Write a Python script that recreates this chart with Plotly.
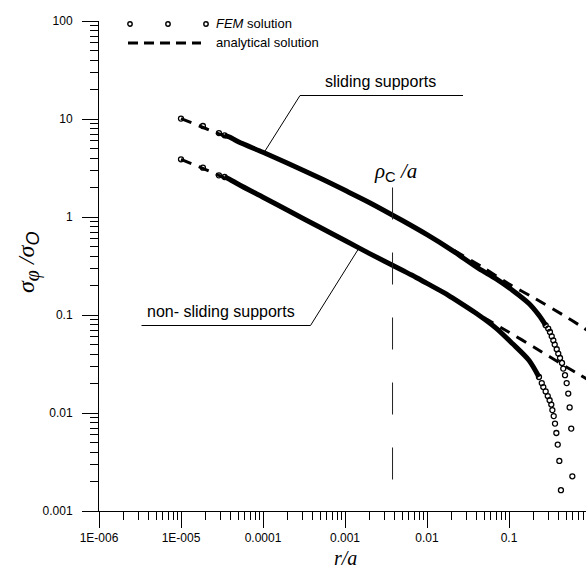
import plotly.graph_objects as go

# ---------------- data ----------------
# analytical solution (dashed)
ana_x = [1e-5, 2e-5, 5e-5, 1e-4, 2e-4, 5e-4, 1e-3, 2e-3, 5e-3, 1e-2, 2e-2,
         5e-2, 0.1, 0.2, 0.5, 0.7, 1.0]
ana_sliding = [10.1, 8.0, 5.85, 4.57, 3.53, 2.48, 1.87, 1.40, 0.92, 0.66, 0.47,
               0.30, 0.207, 0.150, 0.0955, 0.080, 0.066]
ana_nonsliding = [3.88, 3.05, 2.16, 1.59, 1.17, 0.781, 0.575, 0.423, 0.286, 0.210,
                  0.151, 0.0935, 0.0667, 0.0472, 0.0295, 0.025, 0.0209]

# FEM solution (open circles)
fem_sliding_x = [1e-5, 1.85e-5, 2.9e-5, 3.4e-5, 3.9e-5, 5e-5, 1e-4, 2e-4, 5e-4,
                 1e-3, 2e-3, 5e-3, 1e-2, 2e-2, 0.043, 0.069, 0.11, 0.175, 0.232,
                 0.28, 0.301, 0.316, 0.332, 0.347, 0.361, 0.382, 0.399, 0.419,
                 0.443, 0.459, 0.482, 0.505, 0.528, 0.549, 0.574, 0.592]
fem_sliding_y = [10.1, 8.48, 7.19, 6.82, 6.55, 5.85, 4.57, 3.53, 2.48,
                 1.87, 1.40, 0.92, 0.66, 0.46, 0.297, 0.235, 0.179, 0.131, 0.0993,
                 0.0785, 0.0727, 0.0671, 0.0606, 0.0552, 0.0499, 0.0447, 0.0404,
                 0.0364, 0.0324, 0.0284, 0.0243, 0.0202, 0.0158, 0.0114, 0.00693,
                 0.00226]
fem_nonsliding_x = [1e-5, 1.85e-5, 2.9e-5, 3.4e-5, 3.9e-5, 5e-5, 1e-4, 2e-4, 5e-4,
                    1e-3, 2e-3, 5e-3, 6.6e-3, 1e-2, 1.69e-2, 2e-2, 0.043, 0.07,
                    0.11, 0.175, 0.232, 0.251, 0.262, 0.280, 0.297, 0.313, 0.328,
                    0.338, 0.351, 0.364, 0.378, 0.393, 0.411, 0.430]
fem_nonsliding_y = [3.88, 3.19, 2.66, 2.56, 2.43, 2.16, 1.59, 1.17, 0.781,
                    0.575, 0.423, 0.286, 0.254, 0.210, 0.165, 0.151, 0.0993, 0.073,
                    0.0511, 0.0345, 0.0233, 0.0202, 0.0184, 0.0166, 0.0149, 0.0135,
                    0.0122, 0.0107, 0.0093, 0.0078, 0.00625, 0.00476, 0.00324,
                    0.00163]
# where FEM nodes are so dense they merge into a band
dense_from = 3.4e-5
dense_to_sliding = 0.28
dense_to_nonsliding = 0.232

# critical radius marker
rho_c_over_a = 0.0038
rho_line_y = [2.0, 0.001]

x_tickvals = [1e-6, 1e-5, 1e-4, 1e-3, 1e-2, 1e-1]
x_ticktext = ["1E-006", "1E-005", "0.0001", "0.001", "0.01", "0.1"]
y_tickvals = [1e-3, 1e-2, 1e-1, 1, 10, 100]
y_ticktext = ["0.001", "0.01", "0.1", "1", "10", "100"]

# ---------------- layout geometry ----------------
W, H = 586, 570
L, R, T, B = 99, 0, 21, 59
PW, PH = W - L - R, H - T - B
X_DEC = 82.0  # px per decade on x
x_range = [-6, -6 + PW / X_DEC]


def PX(px):
    return (px - L) / PW


def PY(py):
    return (H - B - py) / PH


SANS = "Liberation Sans, Arial, sans-serif"
SERIF = "Liberation Serif, Times New Roman, serif"

fig = go.Figure()

# FEM curves
for fx, fy, dto in ((fem_sliding_x, fem_sliding_y, dense_to_sliding),
                    (fem_nonsliding_x, fem_nonsliding_y, dense_to_nonsliding)):
    dx = [a for a in fx if dense_from <= a <= dto]
    dy = [b for a, b in zip(fx, fy) if dense_from <= a <= dto]
    sx = [a for a in fx if not (dense_from < a < dto)]
    sy = [b for a, b in zip(fx, fy) if not (dense_from < a < dto)]
    fig.add_trace(go.Scatter(x=dx, y=dy, mode="lines",
                             line=dict(color="black", width=5, shape="spline",
                                       smoothing=0.8),
                             showlegend=False, hoverinfo="skip"))
    fig.add_trace(go.Scatter(x=sx, y=sy, mode="markers",
                             marker=dict(symbol="circle-open", size=5,
                                         color="black", line=dict(width=1.3)),
                             showlegend=False, hoverinfo="skip"))

# analytical dashed curves (drawn over the FEM symbols)
for ys in (ana_sliding, ana_nonsliding):
    fig.add_trace(go.Scatter(x=ana_x, y=ys, mode="lines",
                             line=dict(color="black", width=3, dash="11px,8px",
                                       shape="spline", smoothing=0.6),
                             showlegend=False, hoverinfo="skip"))

# vertical rho_c/a line
fig.add_trace(go.Scatter(x=[rho_c_over_a, rho_c_over_a], y=rho_line_y, mode="lines",
                         line=dict(color="#222", width=1, dash="32px,33px"),
                         showlegend=False, hoverinfo="skip"))


def minor_vals(lo, hi):
    out = []
    for k in range(lo, hi):
        for m in range(2, 10):
            out.append(m * 10 ** k)
    return out


axis_common = dict(type="log", showgrid=False, zeroline=False, showline=True,
                   linecolor="black", linewidth=1, ticks="outside", ticklen=16,
                   tickwidth=1, tickcolor="black",
                   tickfont=dict(family=SANS, size=12, color="black"))

fig.update_xaxes(range=x_range, tickvals=x_tickvals, ticktext=x_ticktext,
                 ticklabelstandoff=0,
                 minor=dict(ticks="outside", ticklen=8, tickwidth=1,
                            tickcolor="black", tickvals=minor_vals(-6, 0)),
                 **axis_common)
fig.update_yaxes(range=[-3, 2], tickvals=y_tickvals, ticktext=y_ticktext,
                 ticklabelstandoff=7,
                 minor=dict(ticks="outside", ticklen=8, tickwidth=1,
                            tickcolor="black", tickvals=minor_vals(-3, 2)),
                 **axis_common)

shapes = []
annotations = []

# legend
for cx in (130, 168, 206):
    shapes.append(dict(type="circle", xref="paper", yref="paper",
                       x0=PX(cx - 2.2), x1=PX(cx + 2.2), y0=PY(24 + 2.2), y1=PY(24 - 2.2),
                       line=dict(color="black", width=1.4)))
shapes.append(dict(type="line", xref="paper", yref="paper",
                   x0=PX(128), x1=PX(201), y0=PY(43), y1=PY(43),
                   line=dict(color="black", width=3, dash="10px,6px")))
annotations.append(dict(xref="paper", yref="paper", x=PX(214), y=PY(24),
                        xanchor="left", yanchor="middle", showarrow=False,
                        text="<i>FEM</i> solution",
                        font=dict(family=SANS, size=13, color="black")))
annotations.append(dict(xref="paper", yref="paper", x=PX(214), y=PY(43),
                        xanchor="left", yanchor="middle", showarrow=False,
                        text="analytical solution",
                        font=dict(family=SANS, size=13, color="black")))

# curve labels with leader lines
annotations.append(dict(xref="paper", yref="paper", x=PX(380), y=PY(81),
                        xanchor="center", yanchor="middle", showarrow=False,
                        text="sliding supports",
                        font=dict(family=SANS, size=16, color="black")))
shapes.append(dict(type="line", xref="paper", yref="paper",
                   x0=PX(300), x1=PX(463), y0=PY(95.5), y1=PY(95.5),
                   line=dict(color="black", width=1)))
shapes.append(dict(type="line", xref="paper", yref="paper",
                   x0=PX(300), x1=PX(265), y0=PY(95.5), y1=PY(151),
                   line=dict(color="black", width=1)))

annotations.append(dict(xref="paper", yref="paper", x=PX(221), y=PY(311),
                        xanchor="center", yanchor="middle", showarrow=False,
                        text="non- sliding supports",
                        font=dict(family=SANS, size=16, color="black")))
shapes.append(dict(type="line", xref="paper", yref="paper",
                   x0=PX(141.5), x1=PX(310.5), y0=PY(325.5), y1=PY(325.5),
                   line=dict(color="black", width=1)))
shapes.append(dict(type="line", xref="paper", yref="paper",
                   x0=PX(310.5), x1=PX(359), y0=PY(325.5), y1=PY(248),
                   line=dict(color="black", width=1)))

# rho_c / a label
annotations.append(dict(xref="paper", yref="paper", x=PX(395), y=PY(172),
                        xanchor="center", yanchor="middle", showarrow=False,
                        text="<i>ρ</i><sub><span style='font-family:Liberation Sans'>C</span></sub> <i>/a</i>",
                        font=dict(family=SERIF, size=21, color="black")))

# axis titles
annotations.append(dict(xref="paper", yref="paper", x=PX(345), y=PY(557.5),
                        xanchor="center", yanchor="middle", showarrow=False,
                        text="<i>r/a</i>",
                        font=dict(family=SERIF, size=20, color="black")))
annotations.append(dict(xref="paper", yref="paper", x=PX(28), y=PY(263),
                        xanchor="center", yanchor="middle", showarrow=False,
                        textangle=-90,
                        text="<i>σ<sub><span style='font-size:20px'>φ</span></sub> /σ<sub><span style='font-family:Liberation Sans;font-size:18px'>O</span></sub></i>",
                        font=dict(family=SERIF, size=24, color="black")))

fig.update_layout(width=W, height=H,
                  margin=dict(l=L, r=R, t=T, b=B, pad=0, autoexpand=False),
                  paper_bgcolor="white", plot_bgcolor="white",
                  showlegend=False, shapes=shapes, annotations=annotations)

fig.write_html("out.html")
